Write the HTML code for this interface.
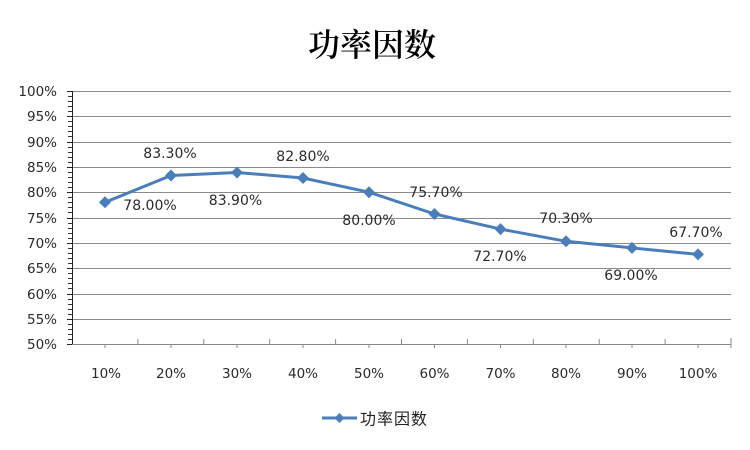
<!DOCTYPE html>
<html><head><meta charset="utf-8"><style>
html,body{margin:0;padding:0;background:#fff;}
svg{display:block;}
</style></head><body>
<svg width="750" height="450" viewBox="0 0 750 450" xmlns="http://www.w3.org/2000/svg">
<rect width="750" height="450" fill="#fff"/>
<text x="372" y="56" text-anchor="middle" font-family="'Liberation Serif','Noto Serif CJK SC',serif" font-weight="600" font-size="32" fill="#000">功率因数</text>
<g stroke="#8a8a8a" stroke-width="1">
<line x1="72" y1="91.5" x2="731" y2="91.5"/>
<line x1="72" y1="116.5" x2="731" y2="116.5"/>
<line x1="72" y1="142.5" x2="731" y2="142.5"/>
<line x1="72" y1="167.5" x2="731" y2="167.5"/>
<line x1="72" y1="192.5" x2="731" y2="192.5"/>
<line x1="72" y1="218.5" x2="731" y2="218.5"/>
<line x1="72" y1="243.5" x2="731" y2="243.5"/>
<line x1="72" y1="268.5" x2="731" y2="268.5"/>
<line x1="72" y1="294.5" x2="731" y2="294.5"/>
<line x1="72" y1="319.5" x2="731" y2="319.5"/>
</g>
<g stroke="#222" stroke-width="1">
<line x1="72.5" y1="91" x2="72.5" y2="345"/>
<line x1="67" y1="91.5" x2="72" y2="91.5"/>
<line x1="67" y1="116.5" x2="72" y2="116.5"/>
<line x1="67" y1="142.5" x2="72" y2="142.5"/>
<line x1="67" y1="167.5" x2="72" y2="167.5"/>
<line x1="67" y1="192.5" x2="72" y2="192.5"/>
<line x1="67" y1="218.5" x2="72" y2="218.5"/>
<line x1="67" y1="243.5" x2="72" y2="243.5"/>
<line x1="67" y1="268.5" x2="72" y2="268.5"/>
<line x1="67" y1="294.5" x2="72" y2="294.5"/>
<line x1="67" y1="319.5" x2="72" y2="319.5"/>
<line x1="67" y1="344.5" x2="72" y2="344.5"/>
</g>
<g stroke="#333" stroke-width="1">
<path d="M68 96.5h4M68 101.5h4M68 106.5h4M68 111.5h4M68 121.5h4M68 126.5h4M68 131.5h4M68 136.5h4M68 147.5h4M68 152.5h4M68 157.5h4M68 162.5h4M68 172.5h4M68 177.5h4M68 182.5h4M68 187.5h4M68 197.5h4M68 202.5h4M68 207.5h4M68 212.5h4M68 223.5h4M68 228.5h4M68 233.5h4M68 238.5h4M68 248.5h4M68 253.5h4M68 258.5h4M68 263.5h4M68 273.5h4M68 278.5h4M68 283.5h4M68 288.5h4M68 299.5h4M68 304.5h4M68 309.5h4M68 314.5h4M68 324.5h4M68 329.5h4M68 334.5h4M68 339.5h4"/>
</g>
<g stroke="#888" stroke-width="1">
<line x1="72" y1="344.5" x2="731" y2="344.5"/>
<path d="M137.9 339v5M203.8 339v5M269.7 339v5M335.6 339v5M401.5 339v5M467.4 339v5M533.3 339v5M599.2 339v5M665.1 339v5M731 338v10"/>
<path d="M105 344v4M171 344v4M237 344v4M303 344v4M369 344v4M434.5 344v4M500.5 344v4M566 344v4M632 344v4M698 344v4"/>
</g>
<g font-family="'DejaVu Sans',sans-serif" font-size="13.5" fill="#2a2a2a" text-anchor="end">
<text x="57" y="96">100%</text>
<text x="57" y="121">95%</text>
<text x="57" y="147">90%</text>
<text x="57" y="172">85%</text>
<text x="57" y="197">80%</text>
<text x="57" y="223">75%</text>
<text x="57" y="248">70%</text>
<text x="57" y="273">65%</text>
<text x="57" y="299">60%</text>
<text x="57" y="324">55%</text>
<text x="57" y="349">50%</text>
</g>
<g font-family="'DejaVu Sans',sans-serif" font-size="13.5" fill="#2a2a2a" text-anchor="middle">
<text x="106" y="378">10%</text>
<text x="171" y="378">20%</text>
<text x="237" y="378">30%</text>
<text x="303" y="378">40%</text>
<text x="369" y="378">50%</text>
<text x="434.5" y="378">60%</text>
<text x="500.5" y="378">70%</text>
<text x="566" y="378">80%</text>
<text x="632" y="378">90%</text>
<text x="698" y="378">100%</text>
</g>
<polyline fill="none" stroke="#4a7ebb" stroke-width="3" stroke-linejoin="round" points="105,202.3 171,175.5 237,172.5 303,178 369,192.2 434.5,214 500.5,229.1 566,241.3 632,247.9 698,254.4"/>
<g fill="#4a7ebb">
<path d="M105 196.3l6 6-6 6-6-6z"/>
<path d="M171 169.5l6 6-6 6-6-6z"/>
<path d="M237 166.5l6 6-6 6-6-6z"/>
<path d="M303 172l6 6-6 6-6-6z"/>
<path d="M369 186.2l6 6-6 6-6-6z"/>
<path d="M434.5 208l6 6-6 6-6-6z"/>
<path d="M500.5 223.1l6 6-6 6-6-6z"/>
<path d="M566 235.3l6 6-6 6-6-6z"/>
<path d="M632 241.9l6 6-6 6-6-6z"/>
<path d="M698 248.4l6 6-6 6-6-6z"/>
</g>
<g font-family="'DejaVu Sans',sans-serif" font-size="14" fill="#2a2a2a" text-anchor="middle">
<text x="150" y="210">78.00%</text>
<text x="170" y="158">83.30%</text>
<text x="235.5" y="205">83.90%</text>
<text x="303" y="161">82.80%</text>
<text x="369" y="225">80.00%</text>
<text x="436" y="197">75.70%</text>
<text x="500" y="261">72.70%</text>
<text x="566" y="223">70.30%</text>
<text x="631" y="280">69.00%</text>
<text x="696" y="237">67.70%</text>
</g>
<line x1="322" y1="418" x2="357" y2="418" stroke="#4a7ebb" stroke-width="3"/>
<path d="M339.5 413l5 5-5 5-5-5z" fill="#4a7ebb"/>
<text x="360" y="424.5" font-family="'Liberation Sans','Noto Sans CJK SC',sans-serif" font-size="16" letter-spacing="1" fill="#222">功率因数</text>
</svg>
</body></html>
